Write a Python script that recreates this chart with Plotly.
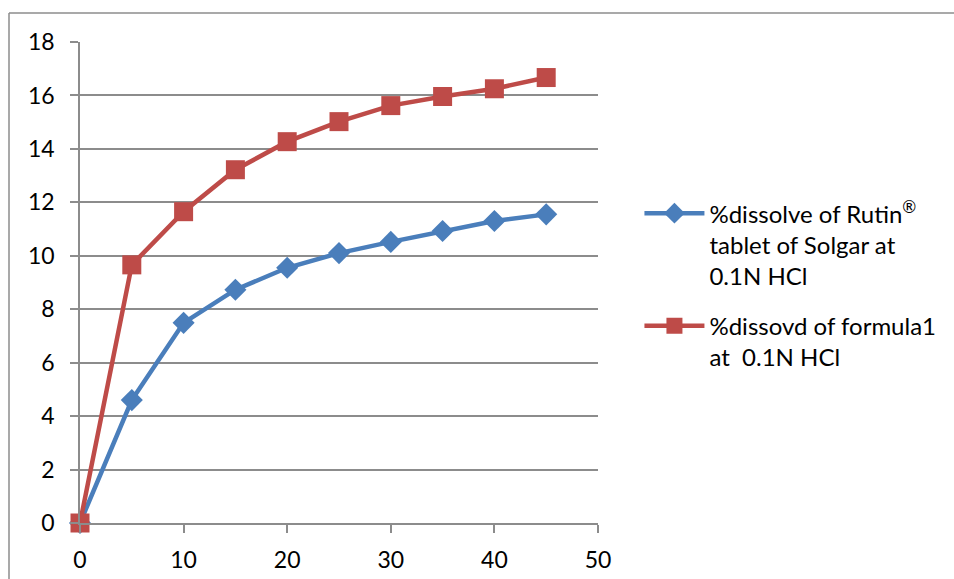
import plotly.graph_objects as go

# Dissolution time points (min)
time_min = [0, 5, 10, 15, 20, 25, 30, 35, 40, 45]

# % dissolved for each product
rutin_solgar = [0, 4.6, 7.49, 8.73, 9.55, 10.1, 10.52, 10.93, 11.3, 11.55]
formula1 = [0, 9.66, 11.65, 13.22, 14.27, 15.02, 15.62, 15.96, 16.25, 16.67]

series_names = [
    "%dissolve of Rutin<sup>®</sup><br>tablet of Solgar at<br>0.1N HCl",
    "%dissovd of formula1<br>at  0.1N HCl",
]

x_ticks = [0, 10, 20, 30, 40, 50]
y_ticks = [0, 2, 4, 6, 8, 10, 12, 14, 16, 18]

BLUE = "#4A7EBB"
RED = "#BE4B48"
GRID = "#8C8C8C"
FONT = "Lato, 'Open Sans', sans-serif"

fig = go.Figure()
fig.add_trace(go.Scatter(
    x=time_min, y=rutin_solgar, name=series_names[0], mode="lines+markers",
    legendgroup="rutin", cliponaxis=False,
    line=dict(color=BLUE, width=4.5),
    marker=dict(symbol="diamond", size=17, color=BLUE),
))
fig.add_trace(go.Scatter(
    x=time_min, y=formula1, name=series_names[1], mode="lines+markers",
    legendgroup="formula1", cliponaxis=False,
    line=dict(color=RED, width=4.5),
    marker=dict(symbol="square", size=19, color=RED),
))

fig.update_layout(
    width=954, height=579,
    margin=dict(l=80, r=356, t=42, b=56),
    paper_bgcolor="white", plot_bgcolor="white",
    font=dict(family=FONT, size=23, color="black"),
    showlegend=True,
    legend=dict(
        x=1.08, y=0.69, xanchor="left", yanchor="top",
        font=dict(size=24), itemwidth=60, tracegroupgap=16,
        valign="top",
        bgcolor="rgba(0,0,0,0)",
    ),
    xaxis=dict(
        range=[0, 50], tickvals=x_ticks, showgrid=False, zeroline=False,
        showline=True, linecolor=GRID, linewidth=1.5,
        ticks="outside", ticklen=8, tickcolor=GRID, tickwidth=1.5,
        tickfont=dict(size=23), ticklabelstandoff=8, automargin=False,
    ),
    yaxis=dict(
        range=[0, 18], tickvals=y_ticks, showgrid=True, gridcolor=GRID,
        gridwidth=1.5, zeroline=False,
        showline=True, linecolor=GRID, linewidth=1.5,
        ticks="outside", ticklen=8, tickcolor=GRID, tickwidth=1.5,
        tickfont=dict(size=23), ticklabelstandoff=11, automargin=False,
    ),
    shapes=[
        # chart-area border (left and top edges)
        dict(type="line", xref="paper", yref="paper",
             x0=-71 / 518, x1=-71 / 518, y0=-56 / 481, y1=(523 - 13) / 481,
             line=dict(color=GRID, width=1.5)),
        dict(type="line", xref="paper", yref="paper",
             x0=-71 / 518, x1=(954 - 80) / 518, y0=(523 - 13) / 481, y1=(523 - 13) / 481,
             line=dict(color=GRID, width=1.5)),
    ],
)

fig.write_html("out.html")
